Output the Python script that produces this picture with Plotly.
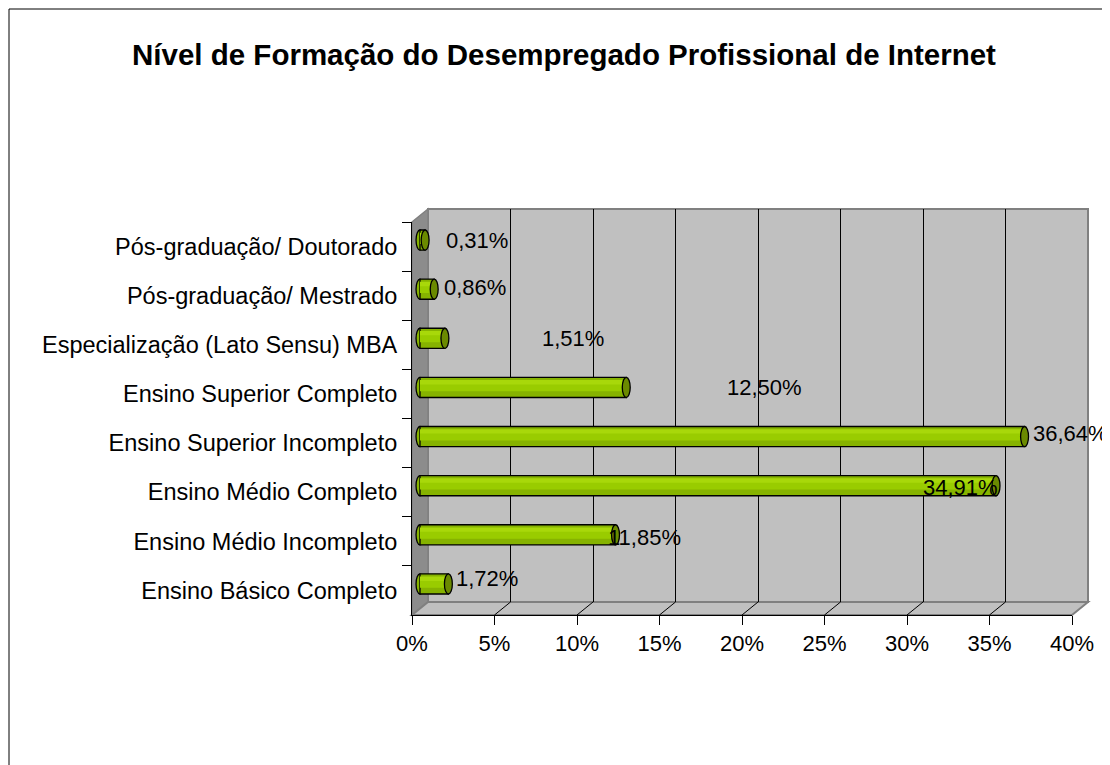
import plotly.graph_objects as go

# ---------------- data ----------------
categories = [
    "Ensino Básico Completo",
    "Ensino Médio Incompleto",
    "Ensino Médio Completo",
    "Ensino Superior Incompleto",
    "Ensino Superior Completo",
    "Especialização (Lato Sensu) MBA",
    "Pós-graduação/ Mestrado",
    "Pós-graduação/ Doutorado",
]
values = [1.72, 11.85, 34.91, 36.64, 12.50, 1.51, 0.86, 0.31]
value_labels = ["1,72%", "11,85%", "34,91%", "36,64%", "12,50%", "1,51%", "0,86%", "0,31%"]
tick_values = [0, 5, 10, 15, 20, 25, 30, 35, 40]
tick_labels = ["0%", "5%", "10%", "15%", "20%", "25%", "30%", "35%", "40%"]
title_text = "Nível de Formação do Desempregado Profissional de Internet"

# label placement offsets (pixels) mimicking the original chart
label_xshift = [6, -10, -75, 6, 99, 95, 8, 19]
label_yshift = [5, -3, -2, 3, 0, 0, 2, 0]

# ---------------- geometry (page pixels) ----------------
OFF = 8                      # default page body margin
W, H = 1110 - OFF, 765 - OFF  # figure size so the page fits the window exactly
FRONT = dict(x0=412, x1=1072, y0=222, y1=615)
DX, DY = 16, -13
BACK = dict(x0=FRONT["x0"] + DX, x1=FRONT["x1"] + DX, y0=FRONT["y0"] + DY, y1=FRONT["y1"] + DY)
MID = dict(x0=FRONT["x0"] + DX / 2, x1=FRONT["x1"] + DX / 2, y0=FRONT["y0"] + DY / 2, y1=FRONT["y1"] + DY / 2)
XMAX = 40
PAD = 0.5                                        # extra axis units so the cylinder caps are not clipped
SCALE = (FRONT["x1"] - FRONT["x0"]) / XMAX       # pixels per percent


def px(x):
    return (x - OFF) / W


def py(y):
    return 1 - (y - OFF) / H


FONT = "Arial, Liberation Sans, sans-serif"
BAR = "#99CC00"
BAR_LIGHT = "#A8D80A"
BAR_DARK = "#86B300"
CAP = "#6B8A00"
WALL = "#C0C0C0"
SIDE = "#8C8C8C"
EDGE = "#808080"

fig = go.Figure()

# bars (cylinders) on the middle-depth axes
fig.add_trace(go.Bar(
    y=categories, x=values, orientation="h", xaxis="x2", yaxis="y2",
    width=0.41, marker=dict(color=BAR_DARK, line=dict(color="black", width=1.3)),
    hoverinfo="skip", showlegend=False,
))
fig.add_trace(go.Bar(
    y=categories, x=values, orientation="h", xaxis="x2", yaxis="y2",
    width=0.2, offset=-0.08, marker=dict(color=BAR, line=dict(width=0)),
    hoverinfo="skip", showlegend=False,
))
fig.add_trace(go.Bar(
    y=categories, x=values, orientation="h", xaxis="x2", yaxis="y2",
    width=0.09, offset=0.06, marker=dict(color=BAR_LIGHT, line=dict(width=0)),
    hoverinfo="skip", showlegend=False,
))
# invisible trace to set up the front axes
fig.add_trace(go.Scatter(
    y=categories, x=values, xaxis="x3", yaxis="y3", mode="markers",
    marker=dict(opacity=0), hoverinfo="skip", showlegend=False,
))
# invisible trace for back wall axes
fig.add_trace(go.Scatter(
    y=categories, x=values, xaxis="x", yaxis="y", mode="markers",
    marker=dict(opacity=0), hoverinfo="skip", showlegend=False,
))

shapes = []
# outer border
shapes.append(dict(type="rect", xref="paper", yref="paper", x0=px(9), x1=1.02, y0=-0.02, y1=py(9),
                   line=dict(color="black", width=1), fillcolor="rgba(0,0,0,0)", layer="below"))
# back wall
shapes.append(dict(type="rect", xref="paper", yref="paper", x0=px(BACK["x0"]), x1=px(BACK["x1"]),
                   y0=py(BACK["y1"]), y1=py(BACK["y0"]), fillcolor=WALL,
                   line=dict(color=EDGE, width=2), layer="below"))
# side wall
side = (f"M {px(FRONT['x0'])},{py(FRONT['y0'])} L {px(BACK['x0'])},{py(BACK['y0'])} "
        f"L {px(BACK['x0'])},{py(BACK['y1'])} L {px(FRONT['x0'])},{py(FRONT['y1'])} Z")
shapes.append(dict(type="path", xref="paper", yref="paper", path=side, fillcolor=SIDE,
                   line=dict(color=EDGE, width=1.5), layer="below"))
# floor
floor = (f"M {px(FRONT['x0'])},{py(FRONT['y1'])} L {px(BACK['x0'])},{py(BACK['y1'])} "
         f"L {px(BACK['x1'])},{py(BACK['y1'])} L {px(FRONT['x1'])},{py(FRONT['y1'])} Z")
shapes.append(dict(type="path", xref="paper", yref="paper", path=floor, fillcolor=WALL,
                   line=dict(color=EDGE, width=2), layer="below"))
# floor grid lines
for t in tick_values[1:-1]:
    fx = FRONT["x0"] + (FRONT["x1"] - FRONT["x0"]) * t / XMAX
    bx = BACK["x0"] + (BACK["x1"] - BACK["x0"]) * t / XMAX
    shapes.append(dict(type="line", xref="paper", yref="paper", x0=px(fx), y0=py(FRONT["y1"]),
                       x1=px(bx), y1=py(BACK["y1"]), line=dict(color="black", width=1), layer="below"))

# cylinder caps
for i, v in enumerate(values):
    ew = 0.24  # half-width of cap in axis units
    shapes.append(dict(type="circle", xref="x2", yref="y2", x0=-ew, x1=ew, y0=i - 0.205, y1=i + 0.205,
                       fillcolor=BAR_DARK, line=dict(color="black", width=1.3), layer="between"))
    shapes.append(dict(type="circle", xref="x2", yref="y2", x0=v - ew, x1=v + ew, y0=i - 0.205, y1=i + 0.205,
                       fillcolor=CAP, line=dict(color="black", width=1.3), layer="above"))

annotations = []
for i, (v, lab) in enumerate(zip(values, value_labels)):
    annotations.append(dict(x=v, y=i, xref="x2", yref="y2", text=lab, showarrow=False,
                            xanchor="left", yanchor="middle", xshift=label_xshift[i], yshift=label_yshift[i],
                            font=dict(family=FONT, size=22, color="black")))

noaxis = dict(showgrid=False, showticklabels=False, ticks="", zeroline=False, showline=False,
              fixedrange=True, automargin=False)

fig.update_layout(
    template="none",
    width=W, height=H,
    margin=dict(l=0, r=0, t=0, b=0, pad=0, autoexpand=False),
    paper_bgcolor="white",
    plot_bgcolor="rgba(0,0,0,0)",
    barmode="overlay",
    showlegend=False,
    title=dict(text=f"<b>{title_text}</b>", xref="paper", yref="paper", x=px(564), y=py(55),
               xanchor="center", yanchor="middle",
               font=dict(family=FONT, size=29.5, color="black")),
    shapes=shapes,
    annotations=annotations,
    # back wall (gridlines)
    xaxis=dict(domain=[px(BACK["x0"]), px(BACK["x1"])], range=[0, XMAX], anchor="y",
               tickvals=tick_values[1:-1], showgrid=True, gridcolor="black", gridwidth=1,
               showticklabels=False, ticks="", zeroline=False, showline=False, fixedrange=True,
               automargin=False),
    yaxis=dict(domain=[py(BACK["y1"]), py(BACK["y0"])], anchor="x", type="category",
               categoryarray=categories, categoryorder="array", range=[-0.5, 7.5], **noaxis),
    # bars (middle depth), padded so the rounded ends are not clipped
    xaxis2=dict(domain=[px(MID["x0"] - PAD * SCALE), px(MID["x1"] + PAD * SCALE)],
                range=[-PAD, XMAX + PAD], anchor="y2", **noaxis),
    yaxis2=dict(domain=[py(MID["y1"]), py(MID["y0"])], anchor="x2", type="category",
                categoryarray=categories, categoryorder="array", range=[-0.5, 7.5], **noaxis),
    # front axes with ticks and labels
    xaxis3=dict(domain=[px(FRONT["x0"]), px(FRONT["x1"])], range=[0, XMAX], anchor="y3",
                tickvals=tick_values, ticktext=tick_labels, ticks="outside", ticklen=9, tickcolor="black",
                showline=True, linecolor="black", linewidth=1, showgrid=False, zeroline=False,
                tickfont=dict(family=FONT, size=22, color="black"), fixedrange=True, automargin=False),
    yaxis3=dict(domain=[py(FRONT["y1"]), py(FRONT["y0"])], anchor="x3", type="category",
                categoryarray=categories, categoryorder="array", range=[-0.5, 7.5],
                tickson="boundaries", ticks="outside", ticklen=9, tickcolor="black",
                ticklabelstandoff=9,
                showline=True, linecolor="black", linewidth=1, showgrid=False, zeroline=False,
                tickfont=dict(family=FONT, size=23.5, color="black"), fixedrange=True, automargin=False),
)

fig.write_html("out.html")
